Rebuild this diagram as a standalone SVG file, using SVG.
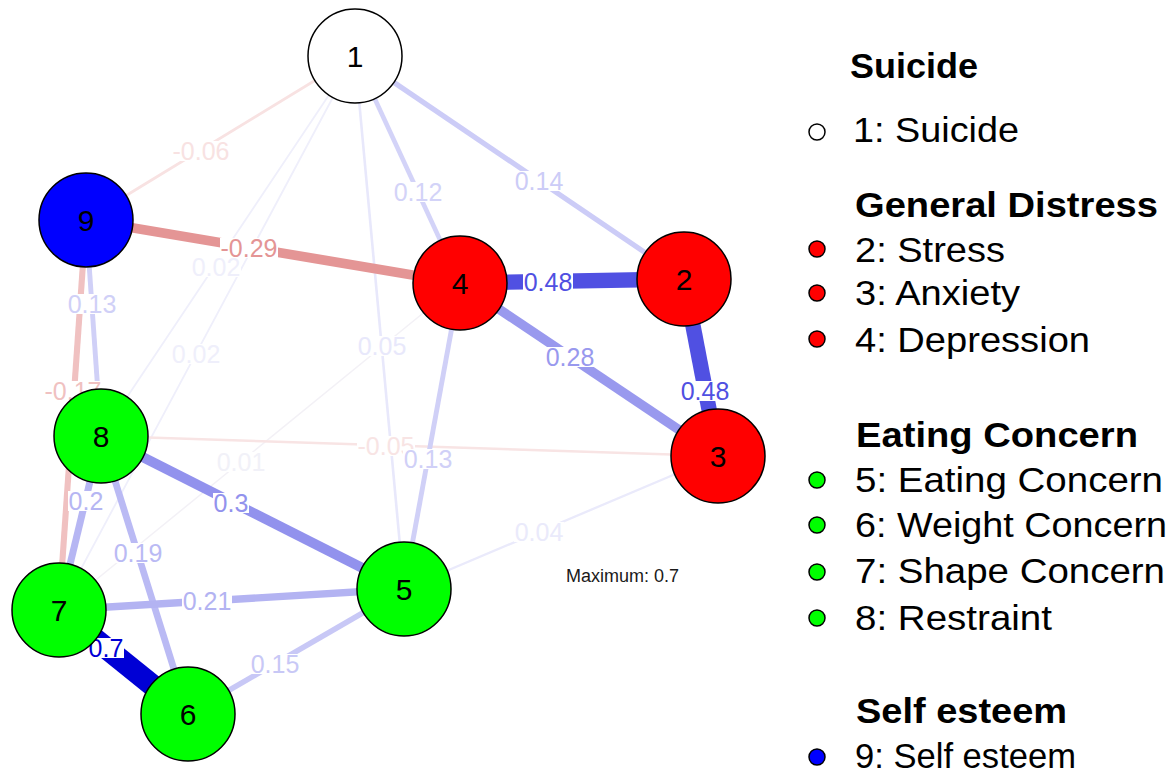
<svg xmlns="http://www.w3.org/2000/svg" width="1175" height="773" viewBox="0 0 1175 773">
<style>
.e{fill:none;stroke-linecap:butt}
.lb{fill:#fff}
.lt{font-family:"Liberation Sans",Arial,sans-serif;font-size:25px;text-anchor:middle}
.n{stroke:#000;stroke-width:1.5}
.nt{font-family:"Liberation Sans",Arial,sans-serif;font-size:30px;text-anchor:middle;fill:#000}
.lg{font-family:"Liberation Sans",Arial,sans-serif;font-size:35px;fill:#000}
.lgb{font-family:"Liberation Sans",Arial,sans-serif;font-size:35px;font-weight:bold;fill:#000}
.ld{stroke:#000;stroke-width:1.5}
</style>
<rect width="1175" height="773" fill="#fff"/>
<g id="connectors">
<line class="e" x1="355" y1="56" x2="101" y2="436" stroke="#EFEFFB" stroke-width="1.8"/>
<line class="e" x1="355" y1="56" x2="59" y2="610" stroke="#EFEFFB" stroke-width="1.8"/>
<line class="e" x1="460" y1="283" x2="59" y2="610" stroke="#F3F1F6" stroke-width="1.5"/>
<line class="e" x1="404" y1="589" x2="718" y2="456" stroke="#EAEAFB" stroke-width="2.3"/>
<line class="e" x1="355" y1="56" x2="404" y2="589" stroke="#E8E8FB" stroke-width="2.6"/>
<line class="e" x1="101" y1="436" x2="718" y2="456" stroke="#F8E4E4" stroke-width="2.6"/>
<line class="e" x1="355" y1="56" x2="86" y2="220" stroke="#F8E2E2" stroke-width="2.9"/>
<line class="e" x1="355" y1="56" x2="460" y2="283" stroke="#D3D3F8" stroke-width="4.6"/>
<line class="e" x1="86" y1="220" x2="101" y2="436" stroke="#D0D0F7" stroke-width="4.9"/>
<line class="e" x1="460" y1="283" x2="404" y2="589" stroke="#D0D0F7" stroke-width="4.9"/>
<line class="e" x1="355" y1="56" x2="684" y2="279" stroke="#CCCCF7" stroke-width="5.2"/>
<line class="e" x1="188" y1="714" x2="404" y2="589" stroke="#C8C8F6" stroke-width="5.5"/>
<line class="e" x1="86" y1="220" x2="59" y2="610" stroke="#F0C1C1" stroke-width="6.1"/>
<line class="e" x1="101" y1="436" x2="188" y2="714" stroke="#BABAF4" stroke-width="6.7"/>
<line class="e" x1="101" y1="436" x2="59" y2="610" stroke="#B6B6F3" stroke-width="7"/>
<line class="e" x1="59" y1="610" x2="404" y2="589" stroke="#B3B3F2" stroke-width="7.3"/>
<line class="e" x1="460" y1="283" x2="718" y2="456" stroke="#9999EE" stroke-width="9.4"/>
<line class="e" x1="86" y1="220" x2="460" y2="283" stroke="#E49595" stroke-width="9.7"/>
<line class="e" x1="101" y1="436" x2="404" y2="589" stroke="#9292ED" stroke-width="10"/>
<line class="e" x1="460" y1="283" x2="684" y2="279" stroke="#5050E2" stroke-width="15.4"/>
<line class="e" x1="684" y1="279" x2="718" y2="456" stroke="#5050E2" stroke-width="15.4"/>
<line class="e" x1="59" y1="610" x2="188" y2="714" stroke="#0000D5" stroke-width="22"/>
</g>
<g id="edge-labels">
<rect class="lb" x="172" y="141" width="58" height="20"/><text class="lt" x="201" y="160" fill="#F8E2E2">-0.06</text>
<rect class="lb" x="220" y="238" width="58" height="20"/><text class="lt" x="249" y="257" fill="#E49595">-0.29</text>
<rect class="lb" x="191" y="257" width="50" height="20"/><text class="lt" x="216" y="276" fill="#EFEFFB">0.02</text>
<rect class="lb" x="393" y="182" width="50" height="20"/><text class="lt" x="418" y="201" fill="#D3D3F8">0.12</text>
<rect class="lb" x="514" y="171" width="50" height="20"/><text class="lt" x="539" y="190" fill="#CCCCF7">0.14</text>
<rect class="lb" x="67" y="294" width="50" height="20"/><text class="lt" x="92" y="313" fill="#D0D0F7">0.13</text>
<rect class="lb" x="171" y="344" width="50" height="20"/><text class="lt" x="196" y="363" fill="#EFEFFB">0.02</text>
<rect class="lb" x="357" y="336" width="50" height="20"/><text class="lt" x="382" y="355" fill="#E8E8FB">0.05</text>
<rect class="lb" x="44" y="381" width="58" height="20"/><text class="lt" x="73" y="400" fill="#F0C1C1">-0.17</text>
<rect class="lb" x="357" y="436" width="58" height="20"/><text class="lt" x="386" y="455" fill="#F8E4E4">-0.05</text>
<rect class="lb" x="403" y="449" width="50" height="20"/><text class="lt" x="428" y="468" fill="#D0D0F7">0.13</text>
<rect class="lb" x="216" y="452" width="50" height="20"/><text class="lt" x="241" y="471" fill="#F1F1F8">0.01</text>
<rect class="lb" x="68" y="491" width="36" height="20"/><text class="lt" x="86" y="510" fill="#B6B6F3">0.2</text>
<rect class="lb" x="213" y="493" width="36" height="20"/><text class="lt" x="231" y="512" fill="#9292ED">0.3</text>
<rect class="lb" x="113" y="543" width="50" height="20"/><text class="lt" x="138" y="562" fill="#BABAF4">0.19</text>
<rect class="lb" x="182" y="591" width="50" height="20"/><text class="lt" x="207" y="610" fill="#B3B3F2">0.21</text>
<rect class="lb" x="88" y="638" width="36" height="20"/><text class="lt" x="106" y="657" fill="#0000D5">0.7</text>
<rect class="lb" x="250" y="654" width="50" height="20"/><text class="lt" x="275" y="673" fill="#C8C8F6">0.15</text>
<rect class="lb" x="523" y="272" width="50" height="20"/><text class="lt" x="548" y="291" fill="#5050E2">0.48</text>
<rect class="lb" x="545" y="347" width="50" height="20"/><text class="lt" x="570" y="366" fill="#9999EE">0.28</text>
<rect class="lb" x="680" y="381" width="50" height="20"/><text class="lt" x="705" y="400" fill="#5050E2">0.48</text>
<rect class="lb" x="514" y="522" width="50" height="20"/><text class="lt" x="539" y="541" fill="#EAEAFB">0.04</text>
</g>
<g id="node-1"><circle class="n" cx="355" cy="56" r="47" fill="#FFFFFF"/><text class="nt" x="355" y="67">1</text></g>
<g id="node-2"><circle class="n" cx="684" cy="279" r="47" fill="#FF0000"/><text class="nt" x="684" y="290">2</text></g>
<g id="node-3"><circle class="n" cx="718" cy="456" r="47" fill="#FF0000"/><text class="nt" x="718" y="467">3</text></g>
<g id="node-4"><circle class="n" cx="460" cy="283" r="47" fill="#FF0000"/><text class="nt" x="460" y="294">4</text></g>
<g id="node-5"><circle class="n" cx="404" cy="589" r="47" fill="#00FF00"/><text class="nt" x="404" y="600">5</text></g>
<g id="node-6"><circle class="n" cx="188" cy="714" r="47" fill="#00FF00"/><text class="nt" x="188" y="725">6</text></g>
<g id="node-7"><circle class="n" cx="59" cy="610" r="47" fill="#00FF00"/><text class="nt" x="59" y="621">7</text></g>
<g id="node-8"><circle class="n" cx="101" cy="436" r="47" fill="#00FF00"/><text class="nt" x="101" y="447">8</text></g>
<g id="node-9"><circle class="n" cx="86" cy="220" r="47" fill="#0000FF"/><text class="nt" x="86" y="231">9</text></g>
<text x="566" y="582" font-family="Liberation Sans, Arial, sans-serif" font-size="18" fill="#1a1a1a">Maximum: 0.7</text>
<g id="legend">
<text class="lgb" x="850" y="78" textLength="128" lengthAdjust="spacingAndGlyphs">Suicide</text>
<circle class="ld" cx="817" cy="132" r="8" fill="#FFFFFF" stroke="#3a0a0a"/>
<text class="lg" x="853" y="142" textLength="166" lengthAdjust="spacingAndGlyphs">1: Suicide</text>
<text class="lgb" x="855" y="217" textLength="303" lengthAdjust="spacingAndGlyphs">General Distress</text>
<circle class="ld" cx="817" cy="249" r="8" fill="#FF0000"/>
<text class="lg" x="855" y="262" textLength="150" lengthAdjust="spacingAndGlyphs">2: Stress</text>
<circle class="ld" cx="817" cy="293" r="8" fill="#FF0000"/>
<text class="lg" x="855" y="305" textLength="165" lengthAdjust="spacingAndGlyphs">3: Anxiety</text>
<circle class="ld" cx="817" cy="339" r="8" fill="#FF0000"/>
<text class="lg" x="855" y="352" textLength="235" lengthAdjust="spacingAndGlyphs">4: Depression</text>
<text class="lgb" x="856" y="447" textLength="282" lengthAdjust="spacingAndGlyphs">Eating Concern</text>
<circle class="ld" cx="817" cy="480" r="8" fill="#00FF00"/>
<text class="lg" x="855" y="492" textLength="308" lengthAdjust="spacingAndGlyphs">5: Eating Concern</text>
<circle class="ld" cx="817" cy="525" r="8" fill="#00FF00"/>
<text class="lg" x="855" y="537" textLength="312" lengthAdjust="spacingAndGlyphs">6: Weight Concern</text>
<circle class="ld" cx="817" cy="572" r="8" fill="#00FF00"/>
<text class="lg" x="855" y="583" textLength="310" lengthAdjust="spacingAndGlyphs">7: Shape Concern</text>
<circle class="ld" cx="817" cy="618" r="8" fill="#00FF00"/>
<text class="lg" x="855" y="630" textLength="197" lengthAdjust="spacingAndGlyphs">8: Restraint</text>
<text class="lgb" x="856" y="723" textLength="211" lengthAdjust="spacingAndGlyphs">Self esteem</text>
<circle class="ld" cx="817" cy="757" r="8" fill="#0000FF"/>
<text class="lg" x="855" y="768" textLength="221" lengthAdjust="spacingAndGlyphs">9: Self esteem</text>
</g>
</svg>
